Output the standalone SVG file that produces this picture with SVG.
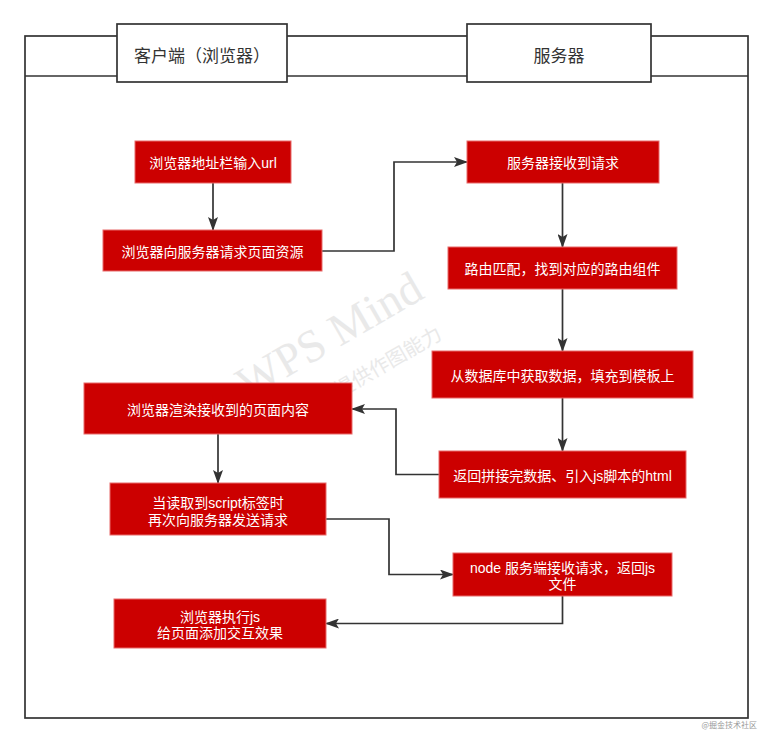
<svg xmlns="http://www.w3.org/2000/svg" width="773" height="743" viewBox="0 0 773 743">
<defs>
<style>
.frame{fill:none;stroke:#333;stroke-width:1.7}
.hdr rect{fill:#fff;stroke:#333;stroke-width:1.7}
.hdr text{font-family:"Liberation Sans","Noto Sans CJK SC",sans-serif;font-size:17px;fill:#333;text-anchor:middle}
.node rect{fill:#CC0000;stroke:#E86A6A;stroke-width:1}
.node text{font-family:"Liberation Sans","Noto Sans CJK SC",sans-serif;font-size:14px;fill:#fff;text-anchor:middle}
.edge{fill:none;stroke:#333;stroke-width:1.7;marker-end:url(#arr)}
.wm{fill:#e9e9e9}
</style>
<marker id="arr" markerUnits="userSpaceOnUse" markerWidth="14" markerHeight="10" viewBox="0 0 14 10" refX="13" refY="5" orient="auto">
<path d="M0,0 L14,5 L0,10 L3,5 z" fill="#333"/>
</marker>
</defs>
<rect width="773" height="743" fill="#fff"/>
<g id="frame">
<rect class="frame" x="25" y="36" width="723" height="682"/>
<line class="frame" x1="25" y1="76" x2="748" y2="76"/>
</g>
<g id="watermark">
<text class="wm" x="248" y="400" transform="rotate(-30 248 400)" font-family="Liberation Serif,serif" font-size="46">WPS Mind</text>
<text class="wm" x="322" y="408" transform="rotate(-30 322 408)" font-family="Noto Sans CJK SC,sans-serif" font-size="20">仅提供作图能力</text>
</g>
<g id="lane-client" class="hdr">
<rect x="117" y="24" width="170" height="58"/>
<text x="202" y="62">客户端（浏览器）</text>
</g>
<g id="lane-server" class="hdr">
<rect x="467" y="24" width="184" height="58"/>
<text x="559" y="62">服务器</text>
</g>
<g id="connectors">
<path class="edge" d="M213,183 L213,230"/>
<path class="edge" d="M322,251 L394,251 L394,162 L467,162"/>
<path class="edge" d="M562.5,183 L562.5,247"/>
<path class="edge" d="M562.5,289 L562.5,351"/>
<path class="edge" d="M562.5,398 L562.5,451"/>
<path class="edge" d="M439,474.5 L396,474.5 L396,409 L352,409"/>
<path class="edge" d="M218,434 L218,483"/>
<path class="edge" d="M326,519 L389,519 L389,574.5 L453,574.5"/>
<path class="edge" d="M562.5,596 L562.5,623.5 L326,623.5"/>
</g>
<g id="n1" class="node"><rect x="135" y="141" width="156" height="42"/><text x="213" y="168">浏览器地址栏输入url</text></g>
<g id="n2" class="node"><rect x="103" y="230" width="219" height="41"/><text x="212.5" y="256.5">浏览器向服务器请求页面资源</text></g>
<g id="n3" class="node"><rect x="467" y="141" width="192" height="42"/><text x="563" y="168">服务器接收到请求</text></g>
<g id="n4" class="node"><rect x="448" y="247" width="229" height="42"/><text x="562.5" y="274">路由匹配，找到对应的路由组件</text></g>
<g id="n5" class="node"><rect x="432" y="351" width="261" height="47"/><text x="562.5" y="380.5">从数据库中获取数据，填充到模板上</text></g>
<g id="n6" class="node"><rect x="439" y="451" width="247" height="47"/><text x="562.5" y="480.5">返回拼接完数据、引入js脚本的html</text></g>
<g id="n7" class="node"><rect x="84" y="383" width="268" height="51"/><text x="218" y="414.5">浏览器渲染接收到的页面内容</text></g>
<g id="n8" class="node"><rect x="110" y="483" width="216" height="52"/><text x="218" y="507.5">当读取到script标签时</text><text x="218" y="524.5">再次向服务器发送请求</text></g>
<g id="n9" class="node"><rect x="453" y="553" width="219" height="43"/><text x="562.5" y="573">node 服务端接收请求，返回js</text><text x="562.5" y="589">文件</text></g>
<g id="n10" class="node"><rect x="114" y="599" width="212" height="49"/><text x="220" y="622">浏览器执行js</text><text x="220" y="638">给页面添加交互效果</text></g>
<text x="757" y="728" text-anchor="end" font-family="Noto Sans CJK SC,sans-serif" font-size="8" fill="#999">@掘金技术社区</text>
</svg>
